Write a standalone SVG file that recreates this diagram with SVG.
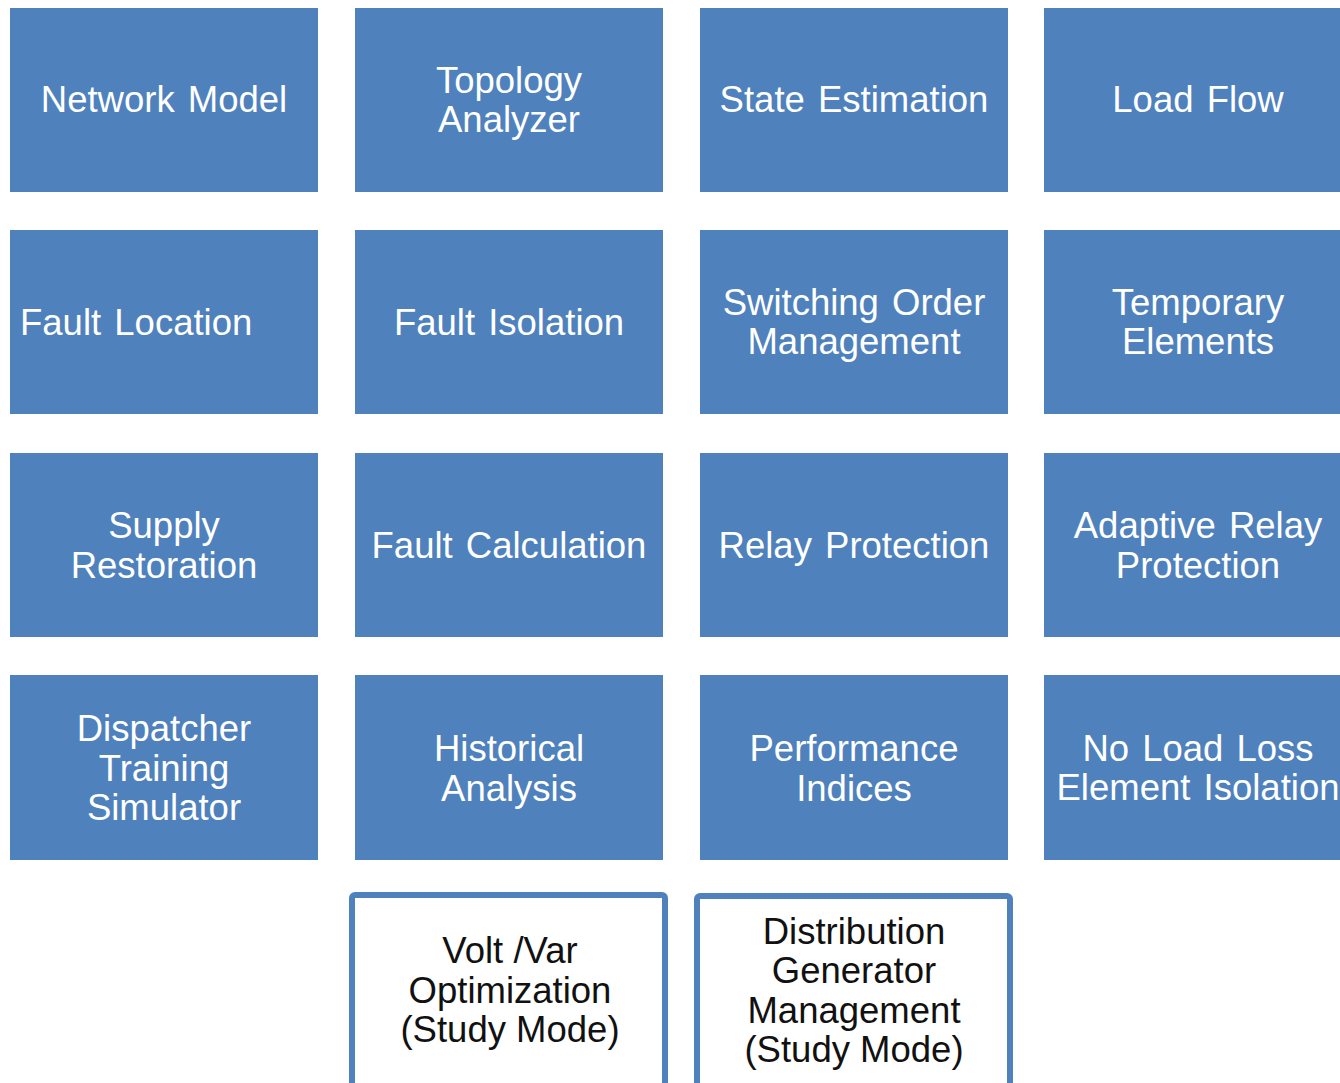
<svg xmlns="http://www.w3.org/2000/svg" width="1340" height="1083" viewBox="0 0 1340 1083">
<style>
.b{fill:#4f81bd;}
.w{fill:#ffffff;stroke:#4f81bd;stroke-width:6;}
.t{font-family:"Liberation Sans",Arial,sans-serif;font-size:36.5px;word-spacing:3px;text-anchor:middle;fill:#ffffff;}
.k{font-family:"Liberation Sans",Arial,sans-serif;font-size:36.5px;text-anchor:middle;fill:#111111;}
</style>
<rect width="1340" height="1083" fill="#ffffff"/>
<g id="network-model"><rect class="b" x="10" y="8" width="308" height="184"/><text class="t" x="164" y="112">Network Model</text></g>
<g id="topology-analyzer"><rect class="b" x="355" y="8" width="308" height="184"/><text class="t" x="509" y="93">Topology</text><text class="t" x="509" y="132">Analyzer</text></g>
<g id="state-estimation"><rect class="b" x="700" y="8" width="308" height="184"/><text class="t" x="854" y="112">State Estimation</text></g>
<g id="load-flow"><rect class="b" x="1044" y="8" width="308" height="184"/><text class="t" x="1198" y="112">Load Flow</text></g>

<g id="fault-location"><rect class="b" x="10" y="230" width="308" height="184"/><text class="t" x="20" y="335" style="text-anchor:start">Fault Location</text></g>
<g id="fault-isolation"><rect class="b" x="355" y="230" width="308" height="184"/><text class="t" x="509" y="335">Fault Isolation</text></g>
<g id="switching-order"><rect class="b" x="700" y="230" width="308" height="184"/><text class="t" x="854" y="315">Switching Order</text><text class="t" x="854" y="354">Management</text></g>
<g id="temporary-elements"><rect class="b" x="1044" y="230" width="308" height="184"/><text class="t" x="1198" y="315">Temporary</text><text class="t" x="1198" y="354">Elements</text></g>

<g id="supply-restoration"><rect class="b" x="10" y="453" width="308" height="184"/><text class="t" x="164" y="538">Supply</text><text class="t" x="164" y="578">Restoration</text></g>
<g id="fault-calculation"><rect class="b" x="355" y="453" width="308" height="184"/><text class="t" x="509" y="558">Fault Calculation</text></g>
<g id="relay-protection"><rect class="b" x="700" y="453" width="308" height="184"/><text class="t" x="854" y="558">Relay Protection</text></g>
<g id="adaptive-relay"><rect class="b" x="1044" y="453" width="308" height="184"/><text class="t" x="1198" y="538">Adaptive Relay</text><text class="t" x="1198" y="578">Protection</text></g>

<g id="dispatcher-training"><rect class="b" x="10" y="675" width="308" height="185"/><text class="t" x="164" y="741">Dispatcher</text><text class="t" x="164" y="781">Training</text><text class="t" x="164" y="820">Simulator</text></g>
<g id="historical-analysis"><rect class="b" x="355" y="675" width="308" height="185"/><text class="t" x="509" y="761">Historical</text><text class="t" x="509" y="801">Analysis</text></g>
<g id="performance-indices"><rect class="b" x="700" y="675" width="308" height="185"/><text class="t" x="854" y="761">Performance</text><text class="t" x="854" y="801">Indices</text></g>
<g id="no-load-loss"><rect class="b" x="1044" y="675" width="308" height="185"/><text class="t" x="1198" y="761">No Load Loss</text><text class="t" x="1198" y="800">Element Isolation</text></g>

<g id="volt-var"><rect class="w" x="352" y="895" width="313" height="200" rx="3"/><text class="k" x="510" y="963">Volt /Var</text><text class="k" x="510" y="1003">Optimization</text><text class="k" x="510" y="1042">(Study Mode)</text></g>
<g id="distribution-generator"><rect class="w" x="697" y="896" width="313" height="200" rx="3"/><text class="k" x="854" y="944">Distribution</text><text class="k" x="854" y="983">Generator</text><text class="k" x="854" y="1023">Management</text><text class="k" x="854" y="1062">(Study Mode)</text></g>
<g id="connectors"></g>
</svg>
